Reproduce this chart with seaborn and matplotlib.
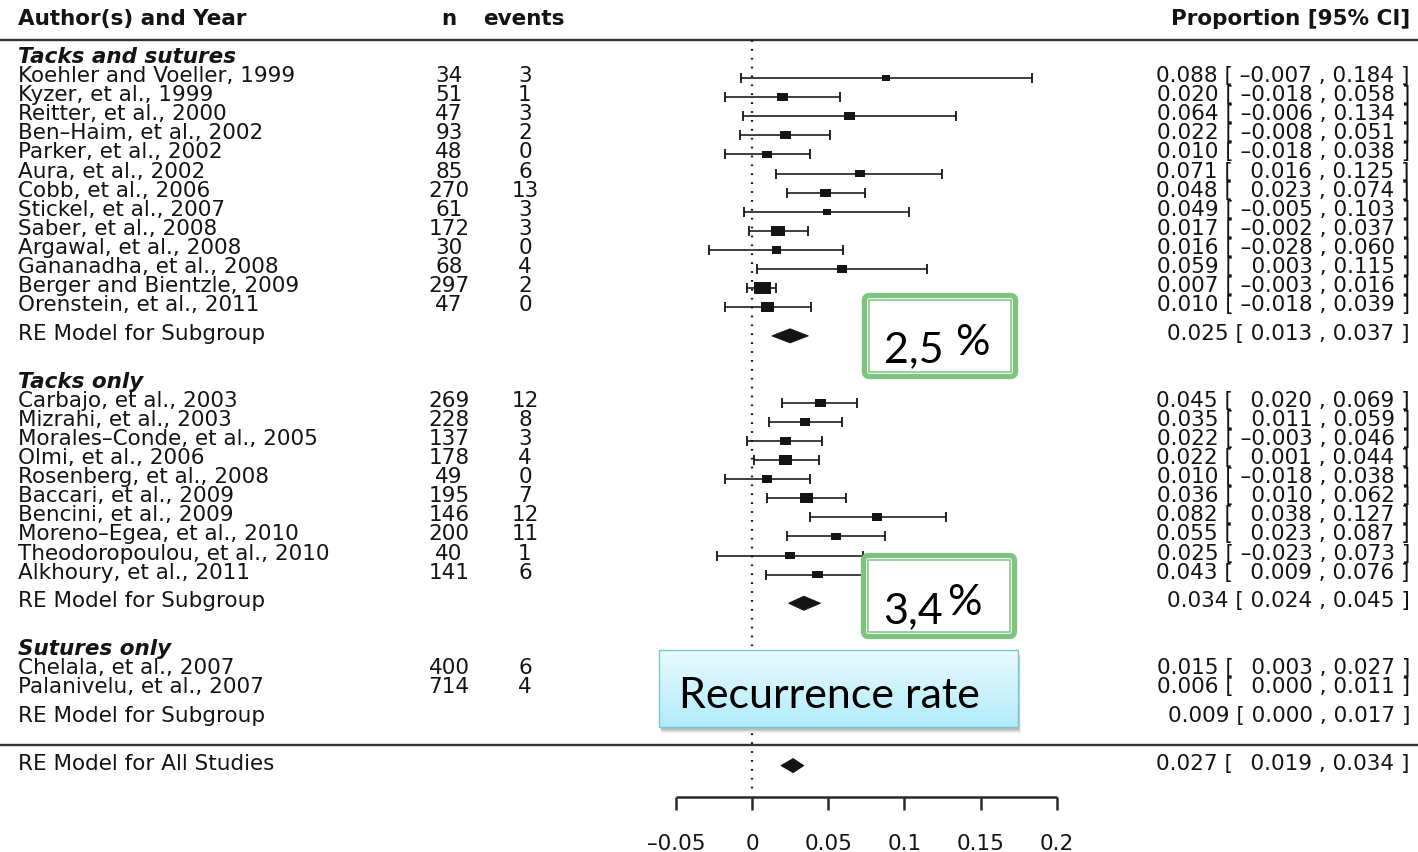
import numpy as np
import pandas as pd
import matplotlib
matplotlib.use("Agg")
import matplotlib.pyplot as plt
import matplotlib.transforms as mtransforms
from matplotlib.patches import FancyBboxPatch, Rectangle
from matplotlib.colors import LinearSegmentedColormap
import seaborn as sns

# ---------------- data ----------------
group_names = ["Tacks and sutures", "Tacks only", "Sutures only"]

studies_ts = ["Koehler and Voeller, 1999", "Kyzer, et al., 1999", "Reitter, et al., 2000",
              "Ben–Haim, et al., 2002", "Parker, et al., 2002", "Aura, et al., 2002",
              "Cobb, et al., 2006", "Stickel, et al., 2007", "Saber, et al., 2008",
              "Argawal, et al., 2008", "Gananadha, et al., 2008", "Berger and Bientzle, 2009",
              "Orenstein, et al., 2011"]
n_ts = [34, 51, 47, 93, 48, 85, 270, 61, 172, 30, 68, 297, 47]
events_ts = [3, 1, 3, 2, 0, 6, 13, 3, 3, 0, 4, 2, 0]
est_ts = [0.088, 0.020, 0.064, 0.022, 0.010, 0.071, 0.048, 0.049, 0.017, 0.016, 0.059, 0.007, 0.010]
lo_ts = [-0.007, -0.018, -0.006, -0.008, -0.018, 0.016, 0.023, -0.005, -0.002, -0.028, 0.003, -0.003, -0.018]
hi_ts = [0.184, 0.058, 0.134, 0.051, 0.038, 0.125, 0.074, 0.103, 0.037, 0.060, 0.115, 0.016, 0.039]
weight_ts = [2.5, 3.9, 3.9, 3.9, 3.9, 3.9, 4.3, 2.5, 6.6, 3.5, 3.9, 10.0, 6.6]
re_ts = [0.025, 0.013, 0.037]

studies_t = ["Carbajo, et al., 2003", "Mizrahi, et al., 2003", "Morales–Conde, et al., 2005",
             "Olmi, et al., 2006", "Rosenberg, et al., 2008", "Baccari, et al., 2009",
             "Bencini, et al., 2009", "Moreno–Egea, et al., 2010", "Theodoropoulou, et al., 2010",
             "Alkhoury, et al., 2011"]
n_t = [269, 228, 137, 178, 49, 195, 146, 200, 40, 141]
events_t = [12, 8, 3, 4, 0, 7, 12, 11, 1, 6]
est_t = [0.045, 0.035, 0.022, 0.022, 0.010, 0.036, 0.082, 0.055, 0.025, 0.043]
lo_t = [0.020, 0.011, -0.003, 0.001, -0.018, 0.010, 0.038, 0.023, -0.023, 0.009]
hi_t = [0.069, 0.059, 0.046, 0.044, 0.038, 0.062, 0.127, 0.087, 0.073, 0.076]
weight_t = [3.9, 3.9, 3.9, 5.6, 3.9, 6.1, 3.9, 3.9, 3.9, 3.9]
re_t = [0.034, 0.024, 0.045]

studies_s = ["Chelala, et al., 2007", "Palanivelu, et al., 2007"]
n_s = [400, 714]
events_s = [6, 4]
est_s = [0.015, 0.006]
lo_s = [0.003, 0.000]
hi_s = [0.027, 0.011]
weight_s = [5.6, 10.0]
re_s = [0.009, 0.000, 0.017]

re_all = [0.027, 0.019, 0.034]

x_ticks = [-0.05, 0, 0.05, 0.1, 0.15, 0.2]
x_tick_labels = ["–0.05", "0", "0.05", "0.1", "0.15", "0.2"]

# ---------------- layout ----------------
W, H = 1418, 852
ROW_PX, ROW0_PX = 19.1, 78.0
X0_PX, PX_PER_UNIT = 752.0, 1524.0

groups = [
    (group_names[0], studies_ts, n_ts, events_ts, est_ts, lo_ts, hi_ts, weight_ts, re_ts),
    (group_names[1], studies_t, n_t, events_t, est_t, lo_t, hi_t, weight_t, re_t),
    (group_names[2], studies_s, n_s, events_s, est_s, lo_s, hi_s, weight_s, re_s),
]

records, headers, re_rows = [], [], []
row = -1.0
for gname, st, nn, ev, es, lo, hi, wt, re in groups:
    headers.append((gname, row))
    row += 1
    for i in range(len(st)):
        records.append(dict(study=st[i], n=nn[i], events=ev[i], est=es[i], lo=lo[i], hi=hi[i],
                            weight=wt[i], row=row))
        row += 1
    row += 0.5
    re_rows.append((re, row))
    row += 2.5
df = pd.DataFrame(records)
row_line2 = re_rows[-1][1] + 1.42
row_all = re_rows[-1][1] + 2.5
row_axis = row_all + 1.62
row_ticklab = row_all + 4.1

sns.set_theme(style="white")
plt.rcParams["font.family"] = ["DejaVu Sans"]

fig = plt.figure(figsize=(W / 100, H / 100), dpi=100)
ax = fig.add_axes([0, 0, 1, 1])
ax.set_xlim(-X0_PX / PX_PER_UNIT, (W - X0_PX) / PX_PER_UNIT)
ax.set_ylim((H - ROW0_PX) / ROW_PX, -ROW0_PX / ROW_PX)
ax.axis("off")

ink = "#141414"
FS = 15.5
blend = mtransforms.blended_transform_factory(ax.transAxes, ax.transData)
def colx(px):
    return px / W

def fmt_val(v, pad):
    s = f"{abs(v):.3f}"
    if v < 0:
        return "–" + s
    return ("\u2002" + s) if pad else s

def fmt_ci(est, lo, hi, pad=True):
    return f"{est:.3f} [ {fmt_val(lo, pad)} , {fmt_val(hi, False)} ]"

TXT_DY = -0.1

# header
ax.text(colx(18), -3 + TXT_DY, "Author(s) and Year", transform=blend, ha="left", va="center",
        fontsize=FS, fontweight="bold", color=ink)
ax.text(colx(449), -3 + TXT_DY, "n", transform=blend, ha="center", va="center",
        fontsize=FS, fontweight="bold", color=ink)
ax.text(colx(524), -3 + TXT_DY, "events", transform=blend, ha="center", va="center",
        fontsize=FS, fontweight="bold", color=ink)
ax.text(colx(1410), -3 + TXT_DY, "Proportion [95% CI]", transform=blend, ha="right", va="center",
        fontsize=FS, fontweight="bold", color=ink)

# horizontal rules
ax.axhline(-2, color="#333333", lw=1.7)
ax.axhline(row_line2, color="#333333", lw=1.7)

# reference dotted line at 0
ax.vlines(0, -2, row_axis - 0.35, color=ink, lw=1.6, linestyles=(0, (0.8, 3.2)))

# group headers
for gname, r in headers:
    ax.text(colx(18), r + TXT_DY, gname, transform=blend, ha="left", va="center",
            fontsize=FS, fontweight="bold", fontstyle="italic", color=ink)

# study rows text
for _, rec in df.iterrows():
    r = rec["row"] + TXT_DY
    ax.text(colx(18), r, rec["study"], transform=blend, ha="left", va="center", fontsize=FS, color=ink)
    ax.text(colx(449), r, str(int(rec["n"])), transform=blend, ha="center", va="center", fontsize=FS, color=ink)
    ax.text(colx(525), r, str(int(rec["events"])), transform=blend, ha="center", va="center", fontsize=FS, color=ink)
    ax.text(colx(1410), r, fmt_ci(rec["est"], rec["lo"], rec["hi"]), transform=blend,
            ha="right", va="center", fontsize=FS, color=ink)

# CI lines
ax.errorbar(df["est"], df["row"], xerr=[df["est"] - df["lo"], df["hi"] - df["est"]],
            fmt="none", ecolor=ink, elinewidth=1.15, capsize=3.4, capthick=1.3, zorder=2)

# weighted boxes
rect_marker = [(-1, -0.75), (1, -0.75), (1, 0.75), (-1, 0.75), (-1, -0.75)]
smax = (16.5 * 0.72) ** 2
sns.scatterplot(data=df, x="est", y="row", size="weight", sizes=(0, smax), size_norm=(0, 10),
                marker=rect_marker, color=ink, linewidth=0, legend=False, ax=ax, zorder=3)
ax.set_xlabel("")
ax.set_ylabel("")

# summary diamonds
DH = 0.37
def diamond(vals, r):
    est, lo, hi = vals
    ax.fill([lo, est, hi, est], [r, r - DH, r, r + DH], color=ink, lw=0.6, ec=ink, zorder=3)

for re, r in re_rows:
    diamond(re, r)
    ax.text(colx(18), r + TXT_DY, "RE Model for Subgroup", transform=blend, ha="left", va="center",
            fontsize=FS, color=ink)
    ax.text(colx(1410), r + TXT_DY, fmt_ci(*re, pad=False), transform=blend, ha="right", va="center",
            fontsize=FS, color=ink)

diamond(re_all, row_all)
ax.text(colx(18), row_all + TXT_DY, "RE Model for All Studies", transform=blend, ha="left", va="center",
        fontsize=FS, color=ink)
ax.text(colx(1410), row_all + TXT_DY, fmt_ci(*re_all), transform=blend, ha="right", va="center",
        fontsize=FS, color=ink)

# x axis
ax.hlines(row_axis, x_ticks[0], x_ticks[-1], color="#2a2a2a", lw=1.8)
ax.vlines(x_ticks, row_axis, row_axis + 0.7, color="#2a2a2a", lw=1.8)
for t, lab in zip(x_ticks, x_tick_labels):
    ax.text(t, row_ticklab, lab, ha="center", va="center", fontsize=FS, color=ink)

# ---------------- overlay annotations (pixel coordinates) ----------------
ov = fig.add_axes([0, 0, 1, 1], zorder=5)
ov.set_xlim(0, W)
ov.set_ylim(H, 0)
ov.axis("off")
ov.patch.set_alpha(0)

green = "#7cc47f"
def green_box(x0, y0, x1, y1, num, base_y, num_x, pct_x, pct_base):
    outer = FancyBboxPatch((x0 + 2.5, y0 + 2.5), x1 - x0 - 5, y1 - y0 - 5,
                           boxstyle="round,pad=0,rounding_size=5", lw=3.8, ec=green, fc="white")
    ov.add_patch(outer)
    ov.add_patch(Rectangle((x0 + 7, y0 + 7), x1 - x0 - 14, y1 - y0 - 14, lw=1.1, ec=green, fc="none"))
    ov.text(num_x, base_y, num, ha="left", va="baseline", fontsize=31, family="Lato", color="black")
    ov.text(pct_x, pct_base, "%", ha="left", va="baseline", fontsize=31, family="Lato", color="black")

green_box(862, 293, 1018, 379, "2,5", 362, 884, 955, 355)
green_box(861, 553, 1017, 639, "3,4", 623, 883, 947, 615)

# Recurrence rate box with shadow and gradient
bx0, by0, bx1, by1 = 659, 650, 1018, 727
for k, a in enumerate([0.10, 0.08, 0.06, 0.04, 0.02]):
    ov.add_patch(Rectangle((bx0 + 1 + k * 0.6, by0 + 3 + k), bx1 - bx0, by1 - by0,
                           lw=0, fc="black", alpha=a, zorder=1))
grad = np.linspace(0, 1, 100).reshape(-1, 1)
cmap = LinearSegmentedColormap.from_list("cy", ["#e9fbff", "#b2ebfa"])
ov.imshow(grad, extent=(bx0, bx1, by1, by0), cmap=cmap, aspect="auto", zorder=2,
          interpolation="bilinear")
ov.add_patch(Rectangle((bx0, by0), bx1 - bx0, by1 - by0, lw=1.0, ec="#79c6da", fc="none", zorder=3))
ov.text(679, 708, "Recurrence rate", ha="left", va="baseline", fontsize=31, family="Lato",
        color="black", zorder=4)
ov.set_xlim(0, W)
ov.set_ylim(H, 0)

fig.savefig("out.png", dpi=100)
